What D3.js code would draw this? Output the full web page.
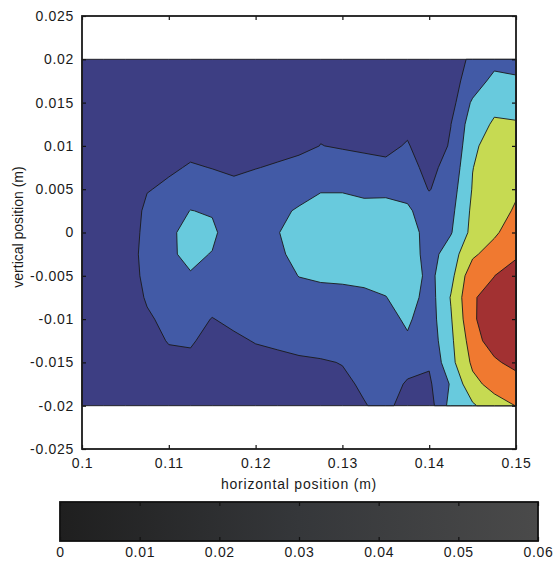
<!DOCTYPE html>
<html>
<head>
<meta charset="utf-8">
<script src="https://cdn.jsdelivr.net/npm/d3@7"></script>
<style>
  body { margin: 0; background: #fff; }
  svg text { font-family: "Liberation Sans", Arial, sans-serif; fill: #1a1a1a; }
</style>
</head>
<body>
<div id="chart"></div>
<script>
// measurement grid (m), rows run from top (y = 0.02) to bottom (y = -0.02)
const xGrid = [0.1, 0.1025, 0.105, 0.1075, 0.11, 0.1125, 0.115, 0.1175, 0.12, 0.1225, 0.125,
               0.1275, 0.13, 0.1325, 0.135, 0.1375, 0.14, 0.1425, 0.145, 0.1475, 0.15];
const yGrid = [0.02, 0.0175, 0.015, 0.0125, 0.01, 0.0075, 0.005, 0.0025, 0, -0.0025,
               -0.005, -0.0075, -0.01, -0.0125, -0.015, -0.0175, -0.02];

// field values, one row per yGrid entry
const values = [
  [0.0040, 0.0040, 0.0040, 0.0045, 0.0045, 0.0045, 0.0050, 0.0050, 0.0050, 0.0050, 0.0050, 0.0050, 0.0050, 0.0050, 0.0050, 0.0050, 0.0055, 0.0060, 0.0117, 0.0160, 0.0160],
  [0.0040, 0.0040, 0.0045, 0.0045, 0.0050, 0.0050, 0.0050, 0.0055, 0.0055, 0.0055, 0.0055, 0.0055, 0.0055, 0.0055, 0.0050, 0.0050, 0.0055, 0.0070, 0.0137, 0.0234, 0.0215],
  [0.0040, 0.0045, 0.0045, 0.0050, 0.0055, 0.0055, 0.0060, 0.0060, 0.0060, 0.0060, 0.0060, 0.0065, 0.0060, 0.0060, 0.0055, 0.0055, 0.0060, 0.0065, 0.0216, 0.0275, 0.0260],
  [0.0045, 0.0045, 0.0050, 0.0055, 0.0060, 0.0065, 0.0065, 0.0065, 0.0065, 0.0060, 0.0060, 0.0082, 0.0070, 0.0065, 0.0065, 0.0080, 0.0070, 0.0099, 0.0254, 0.0312, 0.0309],
  [0.0045, 0.0050, 0.0050, 0.0060, 0.0075, 0.0088, 0.0080, 0.0075, 0.0075, 0.0070, 0.0070, 0.0102, 0.0091, 0.0085, 0.0081, 0.0107, 0.0049, 0.0109, 0.0278, 0.0353, 0.0340],
  [0.0045, 0.0050, 0.0055, 0.0070, 0.0093, 0.0104, 0.0099, 0.0090, 0.0097, 0.0110, 0.0140, 0.0150, 0.0150, 0.0130, 0.0118, 0.0125, 0.0079, 0.0129, 0.0298, 0.0348, 0.0360],
  [0.0050, 0.0055, 0.0060, 0.0097, 0.0109, 0.0150, 0.0116, 0.0115, 0.0140, 0.0140, 0.0130, 0.0192, 0.0190, 0.0171, 0.0174, 0.0170, 0.0095, 0.0155, 0.0306, 0.0360, 0.0385],
  [0.0050, 0.0055, 0.0060, 0.0113, 0.0160, 0.0202, 0.0191, 0.0140, 0.0130, 0.0160, 0.0220, 0.0240, 0.0250, 0.0240, 0.0240, 0.0215, 0.0150, 0.0175, 0.0320, 0.0354, 0.0413],
  [0.0050, 0.0055, 0.0060, 0.0120, 0.0177, 0.0240, 0.0220, 0.0140, 0.0150, 0.0194, 0.0250, 0.0270, 0.0280, 0.0270, 0.0270, 0.0230, 0.0175, 0.0193, 0.0330, 0.0380, 0.0470],
  [0.0050, 0.0055, 0.0060, 0.0127, 0.0187, 0.0220, 0.0196, 0.0150, 0.0150, 0.0175, 0.0240, 0.0270, 0.0280, 0.0280, 0.0280, 0.0260, 0.0157, 0.0253, 0.0380, 0.0454, 0.0480],
  [0.0050, 0.0055, 0.0060, 0.0120, 0.0150, 0.0194, 0.0170, 0.0150, 0.0145, 0.0150, 0.0203, 0.0230, 0.0240, 0.0240, 0.0240, 0.0258, 0.0174, 0.0270, 0.0470, 0.0499, 0.0563],
  [0.0050, 0.0055, 0.0060, 0.0107, 0.0130, 0.0150, 0.0135, 0.0140, 0.0140, 0.0145, 0.0150, 0.0133, 0.0137, 0.0167, 0.0197, 0.0251, 0.0155, 0.0306, 0.0494, 0.0524, 0.0580],
  [0.0045, 0.0050, 0.0055, 0.0091, 0.0117, 0.0130, 0.0097, 0.0120, 0.0130, 0.0135, 0.0140, 0.0130, 0.0140, 0.0150, 0.0173, 0.0213, 0.0153, 0.0292, 0.0484, 0.0570, 0.0580],
  [0.0045, 0.0050, 0.0055, 0.0070, 0.0105, 0.0110, 0.0070, 0.0084, 0.0105, 0.0110, 0.0115, 0.0124, 0.0130, 0.0140, 0.0165, 0.0189, 0.0142, 0.0280, 0.0449, 0.0560, 0.0560],
  [0.0040, 0.0045, 0.0050, 0.0060, 0.0077, 0.0080, 0.0065, 0.0065, 0.0070, 0.0086, 0.0093, 0.0095, 0.0102, 0.0120, 0.0145, 0.0133, 0.0110, 0.0271, 0.0418, 0.0479, 0.0543],
  [0.0040, 0.0045, 0.0050, 0.0055, 0.0060, 0.0065, 0.0060, 0.0060, 0.0065, 0.0070, 0.0070, 0.0080, 0.0089, 0.0108, 0.0140, 0.0090, 0.0085, 0.0210, 0.0373, 0.0433, 0.0435],
  [0.0040, 0.0040, 0.0045, 0.0050, 0.0055, 0.0060, 0.0055, 0.0055, 0.0060, 0.0060, 0.0060, 0.0065, 0.0080, 0.0097, 0.0115, 0.0075, 0.0057, 0.0236, 0.0286, 0.0360, 0.0402]
];

const levels = [0, 0.01, 0.02, 0.03, 0.04, 0.05];
const levelColors = ['#3d3e83', '#425aa6', '#68cadd', '#c6da52', '#f07930', '#a23132'];

const xTicks = [0.1, 0.11, 0.12, 0.13, 0.14, 0.15];
const xTickLabels = ['0.1', '0.11', '0.12', '0.13', '0.14', '0.15'];
const yTicks = [0.025, 0.02, 0.015, 0.01, 0.005, 0, -0.005, -0.01, -0.015, -0.02, -0.025];
const yTickLabels = ['0.025', '0.02', '0.015', '0.01', '0.005', '0', '-0.005', '-0.01', '-0.015', '-0.02', '-0.025'];
const cbTicks = [0, 0.01, 0.02, 0.03, 0.04, 0.05, 0.06];
const cbTickLabels = ['0', '0.01', '0.02', '0.03', '0.04', '0.05', '0.06'];

const width = 553, height = 561;
const plot = { left: 82, right: 516, top: 16, bottom: 449 };

const svg = d3.select('#chart').append('svg')
    .attr('width', width)
    .attr('height', height);

const x = d3.scaleLinear().domain([0.1, 0.15]).range([plot.left, plot.right]);
const y = d3.scaleLinear().domain([-0.025, 0.025]).range([plot.bottom, plot.top]);

// grid index -> data position (clamped so the outer half cell sits on the grid edge)
const gx = d3.scaleLinear().domain(xGrid.map((d, i) => i)).range(xGrid).clamp(true);
const gy = d3.scaleLinear().domain(yGrid.map((d, i) => i)).range(yGrid).clamp(true);

const contours = d3.contours()
    .size([xGrid.length, yGrid.length])
    .thresholds(levels)(values.flat());

const toScreen = d3.geoTransform({
    point(px, py) {
        this.stream.point(x(gx(px - 0.5)), y(gy(py - 0.5)));
    }
});
const path = d3.geoPath(toScreen);

svg.append('g')
    .selectAll('path')
    .data(contours)
    .join('path')
    .attr('d', path)
    .attr('fill', (d, i) => levelColors[i])
    .attr('stroke', '#1a1a1a')
    .attr('stroke-width', 0.9)
    .attr('stroke-linejoin', 'round');

// axes, MATLAB style: ticks pointing inwards on all four sides
svg.append('g')
    .attr('transform', `translate(${plot.left},0)`)
    .call(d3.axisLeft(y).tickValues(yTicks).tickSize(-4).tickPadding(8)
        .tickFormat((d, i) => yTickLabels[i]));
svg.append('g')
    .attr('transform', `translate(${plot.right},0)`)
    .call(d3.axisRight(y).tickValues(yTicks).tickSize(-4).tickFormat(''));
svg.append('g')
    .attr('transform', `translate(0,${plot.bottom})`)
    .call(d3.axisBottom(x).tickValues(xTicks).tickSize(-4).tickPadding(9)
        .tickFormat((d, i) => xTickLabels[i]));
svg.append('g')
    .attr('transform', `translate(0,${plot.top})`)
    .call(d3.axisTop(x).tickValues(xTicks).tickSize(-4).tickFormat(''));

svg.selectAll('.domain').remove();
svg.selectAll('.tick line').attr('stroke', '#1a1a1a').attr('stroke-width', 1.2);
svg.selectAll('.tick text')
    .attr('font-size', 14)
    .style('letter-spacing', '0.7px');

svg.append('rect')
    .attr('x', plot.left)
    .attr('y', plot.top)
    .attr('width', plot.right - plot.left)
    .attr('height', plot.bottom - plot.top)
    .attr('fill', 'none')
    .attr('stroke', '#1a1a1a')
    .attr('stroke-width', 1.8);

svg.append('text')
    .attr('x', (plot.left + plot.right) / 2)
    .attr('y', 489)
    .attr('text-anchor', 'middle')
    .attr('font-size', 14)
    .style('letter-spacing', '0.8px')
    .text('horizontal position (m)');

svg.append('text')
    .attr('transform', 'translate(23,227) rotate(-90)')
    .attr('text-anchor', 'middle')
    .attr('font-size', 14)
    .text('vertical position (m)');

// colorbar
const cb = { left: 60, right: 538, top: 502, bottom: 541 };
const c = d3.scaleLinear().domain([0, 0.06]).range([cb.left, cb.right]);

const grad = svg.append('defs').append('linearGradient')
    .attr('id', 'cbgrad')
    .attr('x1', '0%').attr('x2', '100%').attr('y1', '0%').attr('y2', '0%');
grad.append('stop').attr('offset', '0%').attr('stop-color', '#1f1f1f');
grad.append('stop').attr('offset', '50%').attr('stop-color', '#35373a');
grad.append('stop').attr('offset', '100%').attr('stop-color', '#4a4a4a');

svg.append('rect')
    .attr('x', cb.left)
    .attr('y', cb.top)
    .attr('width', cb.right - cb.left)
    .attr('height', cb.bottom - cb.top)
    .attr('fill', 'url(#cbgrad)');

const cbBottom = svg.append('g')
    .attr('transform', `translate(0,${cb.bottom})`)
    .call(d3.axisBottom(c).tickValues(cbTicks).tickSize(-4).tickPadding(6)
        .tickFormat((d, i) => cbTickLabels[i]));
svg.append('g')
    .attr('transform', `translate(0,${cb.top})`)
    .call(d3.axisTop(c).tickValues(cbTicks).tickSize(-4).tickFormat(''));

svg.selectAll('.domain').remove();
svg.selectAll('.tick line').attr('stroke', '#111').attr('stroke-width', 1.2);
cbBottom.selectAll('.tick text')
    .attr('font-size', 14)
    .style('letter-spacing', '0.7px');

svg.append('rect')
    .attr('x', cb.left)
    .attr('y', cb.top)
    .attr('width', cb.right - cb.left)
    .attr('height', cb.bottom - cb.top)
    .attr('fill', 'none')
    .attr('stroke', '#111')
    .attr('stroke-width', 1.8);
</script>
</body>
</html>
